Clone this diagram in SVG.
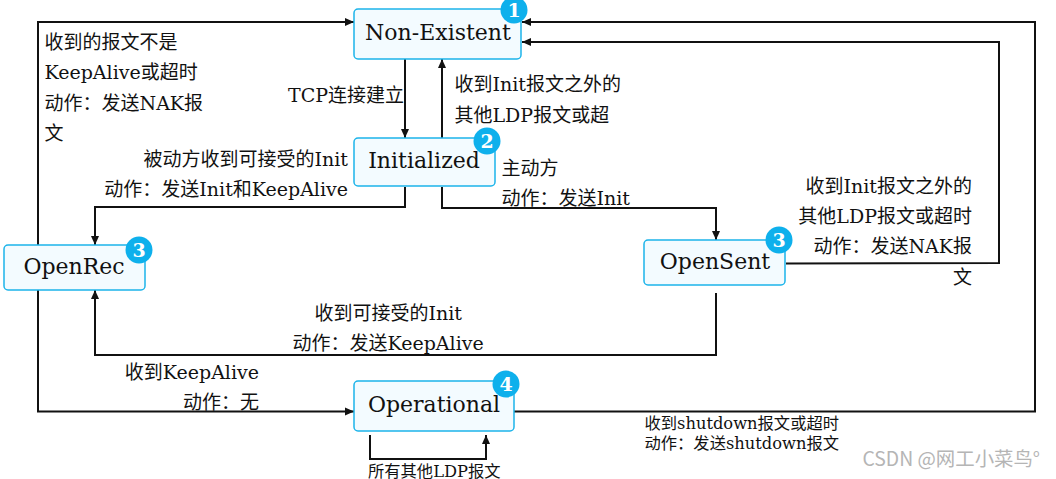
<svg xmlns="http://www.w3.org/2000/svg" width="1056" height="479" viewBox="0 0 1056 479">
<style>
text{font-family:"DejaVu Serif","Noto Sans CJK SC",serif;fill:#111}
.l{font-size:19px}
.s{font-size:16.300px}
.e{text-anchor:end}
.n{font-size:22px;text-anchor:middle}
.b{fill:#f3fbff;stroke:#1cb4ea;stroke-width:1.5}
.c{fill:#0eb0ec}
.d{font-size:19px;font-weight:bold;text-anchor:middle;fill:#fff}
#connectors path{fill:none;stroke:#111;stroke-width:2}
.a{marker-end:url(#arrow)}
</style>
<defs><marker id="arrow" markerUnits="userSpaceOnUse" markerWidth="10" markerHeight="10" refX="9" refY="5" orient="auto"><path d="M0 1L9 5L0 9Z" fill="#111"/></marker></defs>
<rect width="1056" height="479" fill="#fff"/>
<g id="connectors">
<path class="a" d="M38 245V22H354"/>
<path class="a" d="M38 290V411.500H354"/>
<path class="a" d="M405 59V138"/>
<path class="a" d="M442 138V59"/>
<path class="a" d="M405 187V207H95V245"/>
<path class="a" d="M442 187V208H716V240"/>
<path class="a" d="M716 293V355H95V290"/>
<path class="a" d="M786 263.500L999 263V42H522"/>
<path class="a" d="M514 411.500H1035V22H522"/>
<path class="a" d="M370 435V459H486V435"/>
</g>
<g id="labels">
<text class="l" x="44.500" y="49">收到的报文不是</text>
<text class="l" x="44.500" y="79">KeepAlive或超时</text>
<text class="l" x="44.500" y="110">动作：发送NAK报</text>
<text class="l" x="44.500" y="140">文</text>
<text class="l e" x="404" y="102">TCP连接建立</text>
<text class="l" x="454.500" y="91">收到Init报文之外的</text>
<text class="l" x="454.500" y="122">其他LDP报文或超</text>
<text class="l e" x="348" y="166">被动方收到可接受的Init</text>
<text class="l e" x="348" y="196">动作：发送Init和KeepAlive</text>
<text class="l" x="501.500" y="175">主动方</text>
<text class="l" x="501.500" y="205">动作：发送Init</text>
<text class="l e" x="972" y="193">收到Init报文之外的</text>
<text class="l e" x="972" y="223">其他LDP报文或超时</text>
<text class="l e" x="972" y="253">动作：发送NAK报</text>
<text class="l e" x="972" y="284">文</text>
<text class="l" x="314.500" y="320">收到可接受的Init</text>
<text class="l" x="292.500" y="350">动作：发送KeepAlive</text>
<text class="l e" x="259" y="379">收到KeepAlive</text>
<text class="l e" x="259" y="409">动作：无</text>
<text class="s" x="644.500" y="429">收到shutdown报文或超时</text>
<text class="s" x="644.500" y="449">动作：发送shutdown报文</text>
<text class="s" x="368" y="476.500">所有其他LDP报文</text>
</g>
<g id="non-existent"><rect class="b" x="354" y="9" width="167" height="50" rx="4"/><text class="n" x="438" y="40">Non-Existent</text><circle class="c" cx="514" cy="10" r="13.500"/><text class="d" x="514" y="17">1</text></g>
<g id="initialized"><rect class="b" x="354" y="138" width="141" height="48" rx="4"/><text class="n" x="424" y="168">Initialized</text><circle class="c" cx="487" cy="141" r="13.500"/><text class="d" x="487" y="148">2</text></g>
<g id="openrec"><rect class="b" x="4" y="245" width="141" height="45" rx="4"/><text class="n" x="74" y="274">OpenRec</text><circle class="c" cx="139" cy="250" r="13.500"/><text class="d" x="139" y="257">3</text></g>
<g id="opensent"><rect class="b" x="644" y="240" width="141" height="45" rx="4"/><text class="n" x="715" y="269">OpenSent</text><circle class="c" cx="779" cy="240" r="13.500"/><text class="d" x="779" y="247">3</text></g>
<g id="operational"><rect class="b" x="354" y="381" width="160" height="50" rx="4"/><text class="n" x="434" y="412">Operational</text><circle class="c" cx="506" cy="384" r="13.500"/><text class="d" x="506" y="391">4</text></g>
<text x="1040" y="466" text-anchor="end" style="font-family:'Noto Sans CJK SC','Noto Sans',sans-serif;font-size:19.400px;fill:#b5b5b5">CSDN @网工小菜鸟°</text>
</svg>
